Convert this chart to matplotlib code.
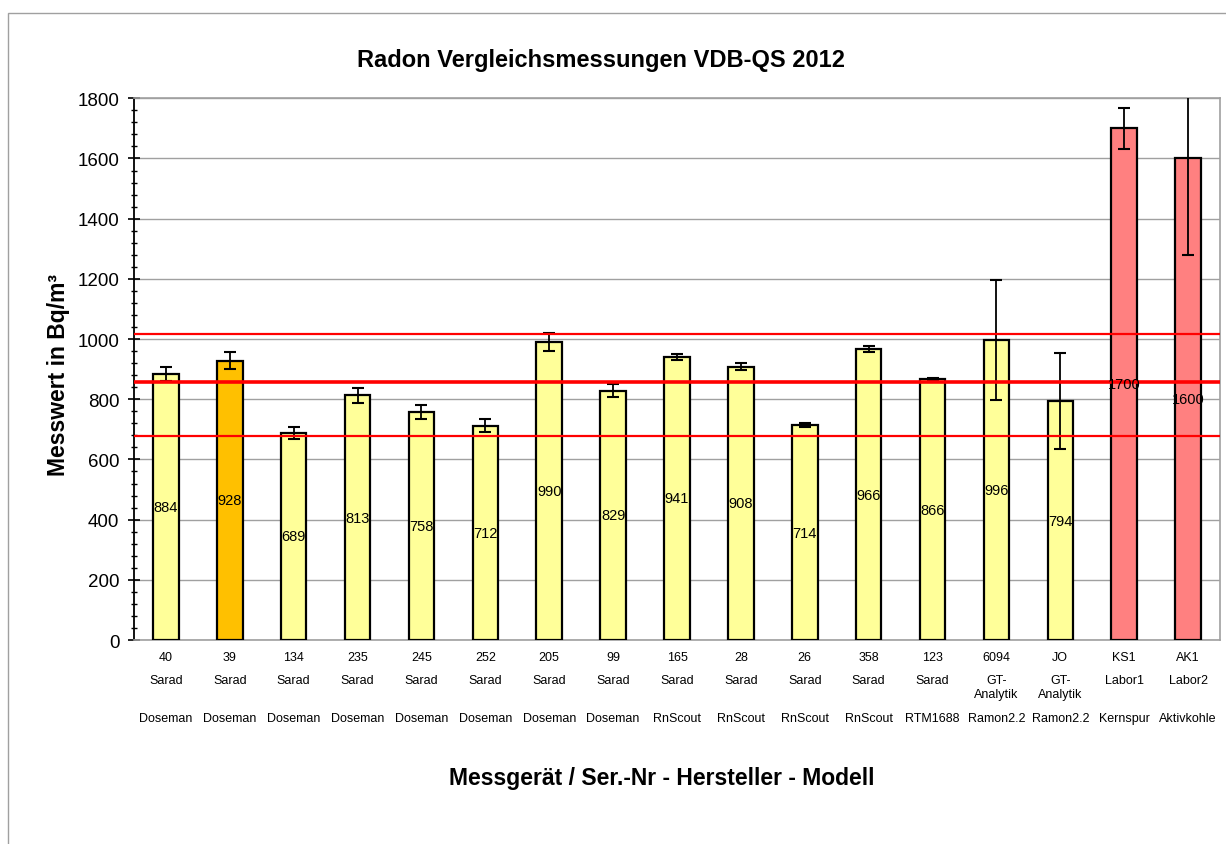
import matplotlib
matplotlib.use("Agg")
import matplotlib.pyplot as plt
import matplotlib.transforms as mtransforms
from matplotlib.patches import Rectangle
from matplotlib.ticker import MultipleLocator

plt.rcParams['font.family'] = ['Liberation Sans', 'DejaVu Sans']

serials = ["40", "39", "134", "235", "245", "252", "205", "99", "165", "28",
           "26", "358", "123", "6094", "JO", "KS1", "AK1"]
makers = ["Sarad"] * 13 + ["GT-\nAnalytik", "GT-\nAnalytik", "Labor1", "Labor2"]
models = ["Doseman"] * 8 + ["RnScout"] * 4 + ["RTM1688", "Ramon2.2", "Ramon2.2",
                                              "Kernspur", "Aktivkohle"]
values = [884, 928, 689, 813, 758, 712, 990, 829, 941, 908, 714, 966, 866,
          996, 794, 1700, 1600]
errors = [23, 28, 20, 25, 23, 22, 30, 23, 10, 11, 7, 10, 6, 200, 160, 68, 320]
groups = ["std", "hl", "std", "std", "std", "std", "std", "std", "std", "std",
          "std", "std", "std", "std", "std", "lab", "lab"]
ref_lines = [1018, 856, 678]
ref_widths = [1.6, 2.6, 1.6]

color_map = {"std": "#FFFF99", "hl": "#FFC000", "lab": "#FF8080"}

W, H = 1226, 845
fig = plt.figure(figsize=(W / 100, H / 100), dpi=100)

# outer chart frame
fig.patches.append(Rectangle((8 / W, -0.01), 1.2, 1 - 14 / H + 0.01,
                             transform=fig.transFigure, fill=False,
                             edgecolor="#A0A0A0", linewidth=1.0))

ax = fig.add_axes([134 / W, 1 - 641 / H, (1220 - 134) / W, (641 - 99.3) / H])

x = list(range(len(values)))
colors = [color_map[g] for g in groups]
ax.bar(x, values, width=0.4, color=colors, edgecolor="black", linewidth=1.6,
       zorder=3)
ax.errorbar(x, values, yerr=errors, fmt="none", ecolor="black", elinewidth=1.3,
            capsize=4.5, capthick=1.5, zorder=4)

for xi, v in zip(x, values):
    ax.text(xi, v / 2, str(v), ha="center", va="center", fontsize=10.5,
            zorder=6, clip_on=True)

for ry, lw in zip(ref_lines, ref_widths):
    ax.axhline(ry, color="#FF0000", linewidth=lw, zorder=5)

ax.set_xlim(-0.5, len(values) - 0.5)
ax.set_ylim(0, 1800)
ax.yaxis.set_major_locator(MultipleLocator(200))
ax.yaxis.set_minor_locator(MultipleLocator(40))
ax.grid(axis="y", which="major", color="#A0A0A0", linewidth=1.0, zorder=0)
ax.set_axisbelow(True)

ax.tick_params(axis="y", which="major", direction="inout", length=9,
               width=1.2, labelsize=13.5, pad=6)
ax.tick_params(axis="y", which="minor", direction="inout", length=5, width=1.0)
ax.tick_params(axis="x", length=0, labelsize=9, pad=8)
ax.set_xticks(x)
ax.set_xticklabels(serials)

for s in ["top", "right", "bottom"]:
    ax.spines[s].set_color("#A0A0A0")
    ax.spines[s].set_linewidth(1.2)
ax.spines["left"].set_color("black")
ax.spines["left"].set_linewidth(1.3)

trans = mtransforms.blended_transform_factory(ax.transData, ax.transAxes)
for xi, mk, md in zip(x, makers, models):
    ax.text(xi, -34 / 541.7, mk, transform=trans, ha="center", va="top",
            fontsize=9, linespacing=1.2)
    ax.text(xi, -72 / 541.7, md, transform=trans, ha="center", va="top",
            fontsize=9)

fig.text(601 / W, 1 - 60 / H, "Radon Vergleichsmessungen VDB-QS 2012",
         ha="center", va="center", fontsize=17, fontweight="bold")
fig.text(58 / W, 1 - 375 / H, "Messwert in Bq/m³", ha="center", va="center",
         rotation=90, fontsize=16.5, fontweight="bold")
fig.text(662 / W, 1 - 779 / H, "Messgerät / Ser.-Nr - Hersteller - Modell",
         ha="center", va="center", fontsize=16.5, fontweight="bold")

fig.savefig("out.png", dpi=100)
